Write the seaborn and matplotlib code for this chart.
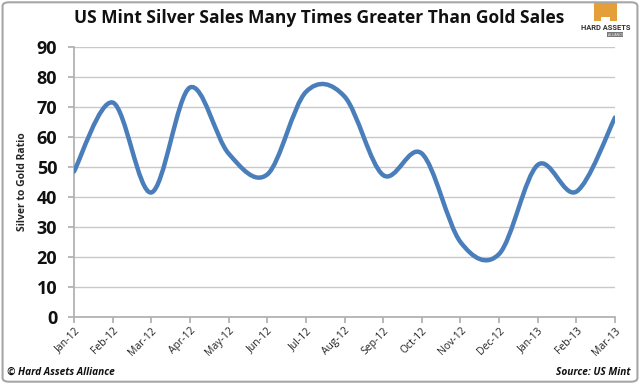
import numpy as np
import pandas as pd
import matplotlib
matplotlib.use("Agg")
import matplotlib.pyplot as plt
import seaborn as sns
from matplotlib.path import Path
from matplotlib.patches import PathPatch, FancyBboxPatch, Polygon

# -------- Data --------
months = ["Jan-12", "Feb-12", "Mar-12", "Apr-12", "May-12", "Jun-12", "Jul-12",
          "Aug-12", "Sep-12", "Oct-12", "Nov-12", "Dec-12", "Jan-13", "Feb-13", "Mar-13"]
ratio = [48.5, 71.5, 41.5, 76.5, 54.5, 47.5, 75, 73.5, 47.3, 54.5, 25, 21, 50.7, 41.8, 66.5]
y_ticks = [0, 10, 20, 30, 40, 50, 60, 70, 80, 90]

df = pd.DataFrame({"month": months, "ratio": ratio})
df["pos"] = np.arange(len(df))

# -------- Style --------
sns.set_theme(style="whitegrid")
plt.rcParams["font.family"] = ["Open Sans", "DejaVu Sans"]
line_color = "#4a7ebb"

fig = plt.figure(figsize=(6.4, 3.84), dpi=100)
ax = fig.add_axes([0.1156, 0.1745, 0.961 - 0.1156, 0.8776 - 0.1745])

# seaborn sets up the series / scales, the smooth Excel-like curve goes on top
sns.lineplot(data=df, x="pos", y="ratio", ax=ax, color=line_color, linewidth=0)

# Excel style smoothed line: cubic bezier through each point
x = df["pos"].to_numpy(dtype=float)
y = df["ratio"].to_numpy(dtype=float)
verts = [(x[0], y[0])]
codes = [Path.MOVETO]
n = len(x)
for i in range(n - 1):
    x0, y0 = (x[i - 1], y[i - 1]) if i > 0 else (x[i], y[i])
    x3, y3 = (x[i + 2], y[i + 2]) if i + 2 < n else (x[i + 1], y[i + 1])
    c1 = (x[i] + (x[i + 1] - x0) / 6, y[i] + (y[i + 1] - y0) / 6)
    c2 = (x[i + 1] - (x3 - x[i]) / 6, y[i + 1] - (y3 - y[i]) / 6)
    verts += [c1, c2, (x[i + 1], y[i + 1])]
    codes += [Path.CURVE4] * 3
ax.add_patch(PathPatch(Path(verts, codes), facecolor="none", edgecolor=line_color,
                       lw=3.2, capstyle="round", joinstyle="round", zorder=3))

# -------- Axes --------
ax.set_xlim(0, len(months) - 1)
ax.set_ylim(0, 90)
ax.set_yticks(y_ticks)
ax.set_yticklabels([str(v) for v in y_ticks], fontsize=13, fontweight="bold", color="#111111")
ax.set_xticks(df["pos"])
ax.set_xticklabels(months, rotation=45, ha="right", rotation_mode="anchor",
                   fontsize=7.5, color="#222222")
ax.set_xlabel("")
ax.set_ylabel("Silver to Gold Ratio", fontsize=7.5, fontweight="bold", labelpad=6)

ax.set_facecolor("white")
ax.grid(axis="y", color="#c8c8c8", linewidth=1.0)
ax.grid(axis="x", visible=False)
for side in ["top", "right"]:
    ax.spines[side].set_visible(False)
ax.spines["left"].set_color("#b0b0b0")
ax.spines["bottom"].set_color("#b0b0b0")
ax.tick_params(axis="both", which="major", length=4, color="#b0b0b0", direction="out",
               left=True, bottom=True, pad=2)
ax.tick_params(axis="y", pad=8)

# -------- Title / notes --------
fig.text(0.499, 0.953, "US Mint Silver Sales Many Times Greater Than Gold Sales",
         ha="center", va="center", fontsize=12.5, fontweight="bold", color="#111111")
fig.text(0.011, 0.031, "© Hard Assets Alliance", ha="left", va="center",
         fontsize=7.3, fontweight="bold", style="italic", color="#111111")
fig.text(0.985, 0.031, "Source: US Mint", ha="right", va="center",
         fontsize=7.3, fontweight="bold", style="italic", color="#111111")

# logo (orange block with doorway + wordmark)
def fpt(px, py):
    return (px / 640, 1 - py / 384)

logo = Polygon([fpt(594, 3), fpt(617, 3), fpt(617, 21), fpt(610, 21), fpt(610, 17),
                fpt(601, 17), fpt(601, 21), fpt(594, 21)],
               closed=True, facecolor="#e59f3a", edgecolor="none", transform=fig.transFigure)
fig.patches.append(logo)
fig.text(606 / 640, 1 - 27.5 / 384, "HARD ASSETS", ha="center", va="center",
         fontsize=5.4, fontweight="bold", color="#333333",
         family=["Roboto", "DejaVu Sans"])
fig.text(615 / 640, 1 - 34.5 / 384, "ALLIANCE", ha="center", va="center",
         fontsize=2.3, color="white",
         bbox=dict(boxstyle="square,pad=0.25", facecolor="#777777", edgecolor="none"))

# outer border
border = FancyBboxPatch((0.004, 0.006), 0.992, 0.988, boxstyle="round,pad=0,rounding_size=0.01",
                        transform=fig.transFigure, facecolor="none", edgecolor="#a6a6a6", lw=1.5)
fig.patches.append(border)

fig.savefig("out.png", dpi=100, facecolor="white")
plt.close(fig)
